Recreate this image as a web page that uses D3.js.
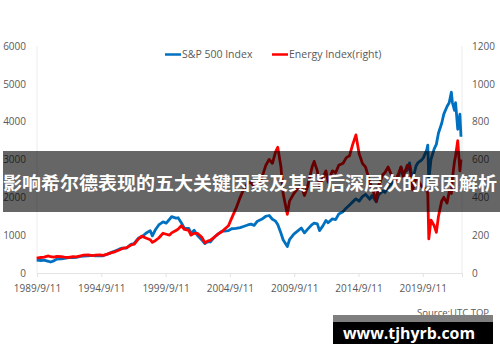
<!DOCTYPE html>
<html><head><meta charset="utf-8">
<script src="https://cdn.jsdelivr.net/npm/d3@7"></script>
<style>html,body{margin:0;padding:0;background:#fff;}svg{display:block;}</style>
</head><body>
<svg id="c" width="500" height="362"></svg>
<script>
const dates = ["1989-09","1990-01","1990-04","1990-08","1990-10","1991-01","1991-04","1991-08","1991-11","1992-03","1992-07","1992-10","1993-02","1993-05","1993-09","1994-01","1994-04","1994-08","1994-11","1995-03","1995-07","1995-10","1996-02","1996-05","1996-09","1997-01","1997-04","1997-08","1997-11","1998-03","1998-07","1998-09","1998-12","1999-03","1999-07","1999-10","2000-01","2000-03","2000-07","2000-09","2000-12","2001-03","2001-07","2001-09","2001-12","2002-03","2002-07","2002-10","2003-01","2003-03","2003-07","2003-10","2004-01","2004-04","2004-08","2004-11","2005-03","2005-07","2005-10","2006-02","2006-05","2006-08","2006-11","2007-03","2007-07","2007-10","2008-01","2008-04","2008-06","2008-09","2008-11","2009-03","2009-05","2009-09","2010-01","2010-04","2010-07","2010-10","2011-02","2011-04","2011-07","2011-09","2011-12","2012-03","2012-05","2012-09","2012-12","2013-03","2013-07","2013-10","2014-01","2014-04","2014-07","2014-10","2015-01","2015-04","2015-08","2015-10","2016-02","2016-04","2016-08","2016-10","2017-01","2017-04","2017-08","2017-11","2018-01","2018-03","2018-07","2018-09","2018-10","2018-12","2019-03","2019-05","2019-08","2019-10","2020-01","2020-02","2020-03","2020-05","2020-08","2020-10","2020-12","2021-03","2021-05","2021-08","2021-10","2021-12","2022-01","2022-03","2022-04","2022-06","2022-08","2022-09"];
const spx = [340,330,340,310,290,320,370,375,385,405,410,415,440,445,455,465,450,460,455,495,545,580,630,660,660,760,780,920,950,1050,1120,980,1150,1270,1350,1320,1420,1490,1450,1460,1330,1180,1180,1050,1130,1000,880,780,830,820,950,1020,1090,1110,1120,1170,1180,1200,1230,1270,1290,1260,1370,1420,1500,1520,1420,1370,1280,1050,880,700,880,1030,1120,1190,1060,1160,1280,1320,1300,1120,1240,1390,1330,1430,1410,1560,1620,1720,1800,1880,1960,1900,2020,2080,1950,2050,1880,2060,2170,2130,2270,2360,2470,2580,2800,2640,2720,2910,2750,2450,2820,2920,2980,3050,3250,3380,2450,3000,3280,3400,3700,3950,4200,4400,4500,4780,4500,4300,4500,3800,4200,3600];
const energy = [78,82,84,90,86,84,88,86,84,82,86,85,90,94,96,92,94,96,93,100,108,112,122,130,134,148,152,180,195,185,176,162,172,185,210,205,200,212,225,232,250,230,225,200,210,210,190,160,170,172,190,205,215,230,250,290,340,400,440,475,480,455,470,500,570,600,580,640,665,560,420,310,380,420,450,460,410,460,560,590,540,455,500,540,480,540,530,570,580,610,620,680,730,630,580,560,480,450,380,460,520,530,560,520,490,530,560,510,570,565,530,440,500,490,460,450,440,420,180,280,250,215,300,380,400,370,430,420,500,590,620,700,540,600];
const leftTicks = [0,1000,2000,3000,4000,5000,6000];
const rightTicks = [0,200,400,600,800,1000,1200];
const xTickLabels = ["1989/9/11","1994/9/11","1999/9/11","2004/9/11","2009/9/11","2014/9/11","2019/9/11"];
const seriesNames = ["S&P 500 Index","Energy Index(right)"];
const bannerText = "影响希尔德表现的五大关键因素及其背后深层次的原因解析";
const sourceText = "Source:UTC.TOP";
const watermarkText = "www.tjhyrb.com";

const svg = d3.select("#c");
const parseM = d3.timeParse("%Y-%m");
const parseD = d3.timeParse("%Y/%m/%d");
const L = 37, R = 462, T = 46, B = 273;
const x = d3.scaleTime().domain([parseD("1989/9/11"), parseD("2022/9/30")]).range([L, R]);
const yL = d3.scaleLinear().domain([0, 6000]).range([B, T]);
const yR = d3.scaleLinear().domain([0, 1200]).range([B, T]);
const font = "'Open Sans', sans-serif";
const grey = "#595959";

// axes lines
svg.append("line").attr("x1", L).attr("x2", L).attr("y1", T).attr("y2", B).attr("stroke", "#ececec");
svg.append("line").attr("x1", R).attr("x2", R).attr("y1", T).attr("y2", B).attr("stroke", "#ececec");

const gL = svg.append("g").attr("transform", `translate(${L},0)`)
  .call(d3.axisLeft(yL).tickValues(leftTicks).tickSize(0).tickPadding(11).tickFormat(d3.format("d")));
const gR = svg.append("g").attr("transform", `translate(${R},0)`)
  .call(d3.axisRight(yR).tickValues(rightTicks).tickSize(0).tickPadding(10).tickFormat(d3.format("d")));
const xTickDates = xTickLabels.map(parseD);
const gX = svg.append("g").attr("transform", `translate(0,${B})`)
  .call(d3.axisBottom(x).tickValues(xTickDates).tickSize(4).tickPadding(8).tickFormat((d,i)=>xTickLabels[i]));
[gL, gR, gX].forEach(g => {
  g.select(".domain").attr("stroke", "#e3e3e3");
  g.selectAll(".tick line").attr("stroke", "#e3e3e3");
  g.selectAll("text").attr("fill", grey).attr("font-family", font).attr("font-size", "10px");
});
gL.select(".domain").remove();
gR.select(".domain").remove();

const ds = dates.map(parseM);
const lineL = d3.line().x((d,i)=>x(ds[i])).y(d=>yL(d)).curve(d3.curveLinear);
const lineR = d3.line().x((d,i)=>x(ds[i])).y(d=>yR(d)).curve(d3.curveLinear);
svg.append("path").attr("d", lineL(spx)).attr("fill","none").attr("stroke","#0070C0").attr("stroke-width",2.8).attr("stroke-linejoin","round");
svg.append("path").attr("d", lineR(energy)).attr("fill","none").attr("stroke","#FF0000").attr("stroke-width",2.8).attr("stroke-linejoin","round");

// legend
const leg = [{x:165, c:"#0070C0"},{x:272, c:"#FF0000"}];
leg.forEach((l,i)=>{
  svg.append("line").attr("x1", l.x).attr("x2", l.x+16).attr("y1", 54.5).attr("y2", 54.5).attr("stroke", l.c).attr("stroke-width", 2.5);
  svg.append("text").attr("x", l.x+17).attr("y", 58).attr("fill", grey).attr("font-family", font).attr("font-size", "10.5px").text(seriesNames[i]);
});

// source
svg.append("text").attr("x", 489).attr("y", 316).attr("text-anchor","end").attr("fill", grey).attr("font-family", font).attr("font-size", "9.5px").text(sourceText);

// banner
svg.append("rect").attr("x", 3).attr("y", 151).attr("width", 497).attr("height", 61).attr("fill", "#000").attr("fill-opacity", 0.6);
svg.append("text").attr("x", 3).attr("y", 190).attr("fill", "#fff").attr("font-family", "'Noto Sans CJK SC', sans-serif").attr("font-weight", "bold").attr("font-size", "18px")
  .attr("textLength", 494).attr("lengthAdjust", "spacingAndGlyphs").text(bannerText);

// watermark
svg.append("rect").attr("x", 333).attr("y", 315).attr("width", 160).attr("height", 29).attr("fill", "#7f7f7f");
svg.append("rect").attr("x", 333).attr("y", 322).attr("width", 160).attr("height", 22).attr("fill", "#000");
svg.append("text").attr("x", 343).attr("y", 339).attr("fill", "#fff").attr("font-family", font).attr("font-weight", "bold").attr("font-size", "16px")
  .attr("textLength", 132).attr("lengthAdjust", "spacingAndGlyphs").text(watermarkText);
</script>
</body></html>
